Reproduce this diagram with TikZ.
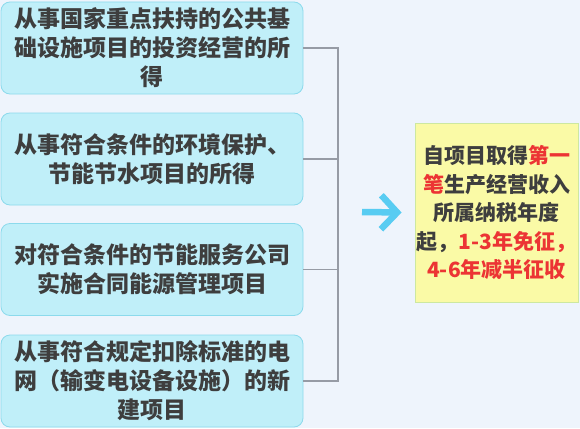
\documentclass[tikz,border=0pt]{standalone}
\usepackage{fontspec}
\setmainfont{Noto Sans CJK SC}
\usepackage{xcolor}
\usepackage{tikz}
\usetikzlibrary{arrows.meta, positioning}
\definecolor{PageBlue}{RGB}{238, 244, 252}
\definecolor{BoxCyan}{RGB}{192, 239, 249}
\definecolor{EdgeCyan}{RGB}{140, 218, 236}
\definecolor{NoteYellow}{RGB}{250, 250, 166}
\definecolor{EdgeGreen}{RGB}{205, 232, 160}
\definecolor{InkGray}{RGB}{62, 62, 62}
\definecolor{LineGray}{RGB}{150, 155, 165}
\definecolor{ArrowCyan}{RGB}{88, 204, 242}
\definecolor{AlertRed}{RGB}{236, 52, 52}
\tikzset{
    itembox/.style={rectangle, fill=BoxCyan, draw=EdgeCyan, line width=0.8pt,
        rounded corners=9pt, minimum width=302pt, minimum height=92pt, inner sep=0pt,
        align=center, text=InkGray, font=\fontsize{23}{29}\selectfont\bfseries},
    notebox/.style={rectangle, fill=NoteYellow, draw=EdgeGreen, line width=0.8pt,
        minimum width=163pt, minimum height=179pt, inner sep=0pt,
        align=center, text=InkGray, font=\fontsize{21}{28.5}\selectfont\bfseries},
    busline/.style={draw=LineGray, line width=1.1pt},
    bigarrow/.style={draw=ArrowCyan, line width=6.5pt,
        -{Straight Barb[length=16pt, width=34pt, line width=6.5pt]}}
}

\begin{document}
\begin{tikzpicture}[x=1pt, y=-1pt]
    \fill[PageBlue] (0,0) rectangle (580,428);
    \useasboundingbox (0,0) rectangle (580,428);
    % left column
    \node[itembox] (gain) at (152,48) {从事国家重点扶持的公共基\\础设施项目的投资经营的所\\得};
    \node[itembox] (green) at (152,159) {从事符合条件的环境保护、\\节能节水项目的所得};
    \node[itembox] (energy) at (152,269.5) {对符合条件的节能服务公司\\实施合同能源管理项目};
    \node[itembox] (grid) at (152,381) {从事符合规定扣除标准的电\\网（输变电设备设施）的新\\建项目};
    % right note
    \node[notebox] (rule) at (496.5,212.5) {自项目取得\textcolor{AlertRed}{第一}\\
        \textcolor{AlertRed}{笔}生产经营收入\\所属纳税年度\\
        起，\textcolor{AlertRed}{1-3年免征，}\\\textcolor{AlertRed}{4-6年减半征收}};
    % bracket
    \coordinate (bus) at (338,212);
    \draw[busline] (gain.east) -| (bus);
    \draw[busline] (grid.east) -| (bus);
    \draw[busline] (green.east) -- (green.east -| bus);
    \draw[busline] (energy.east) -- (energy.east -| bus);
    \draw[bigarrow] ([xshift=24pt]bus) -- ([xshift=-13pt]rule.west);
\end{tikzpicture}
\end{document}
